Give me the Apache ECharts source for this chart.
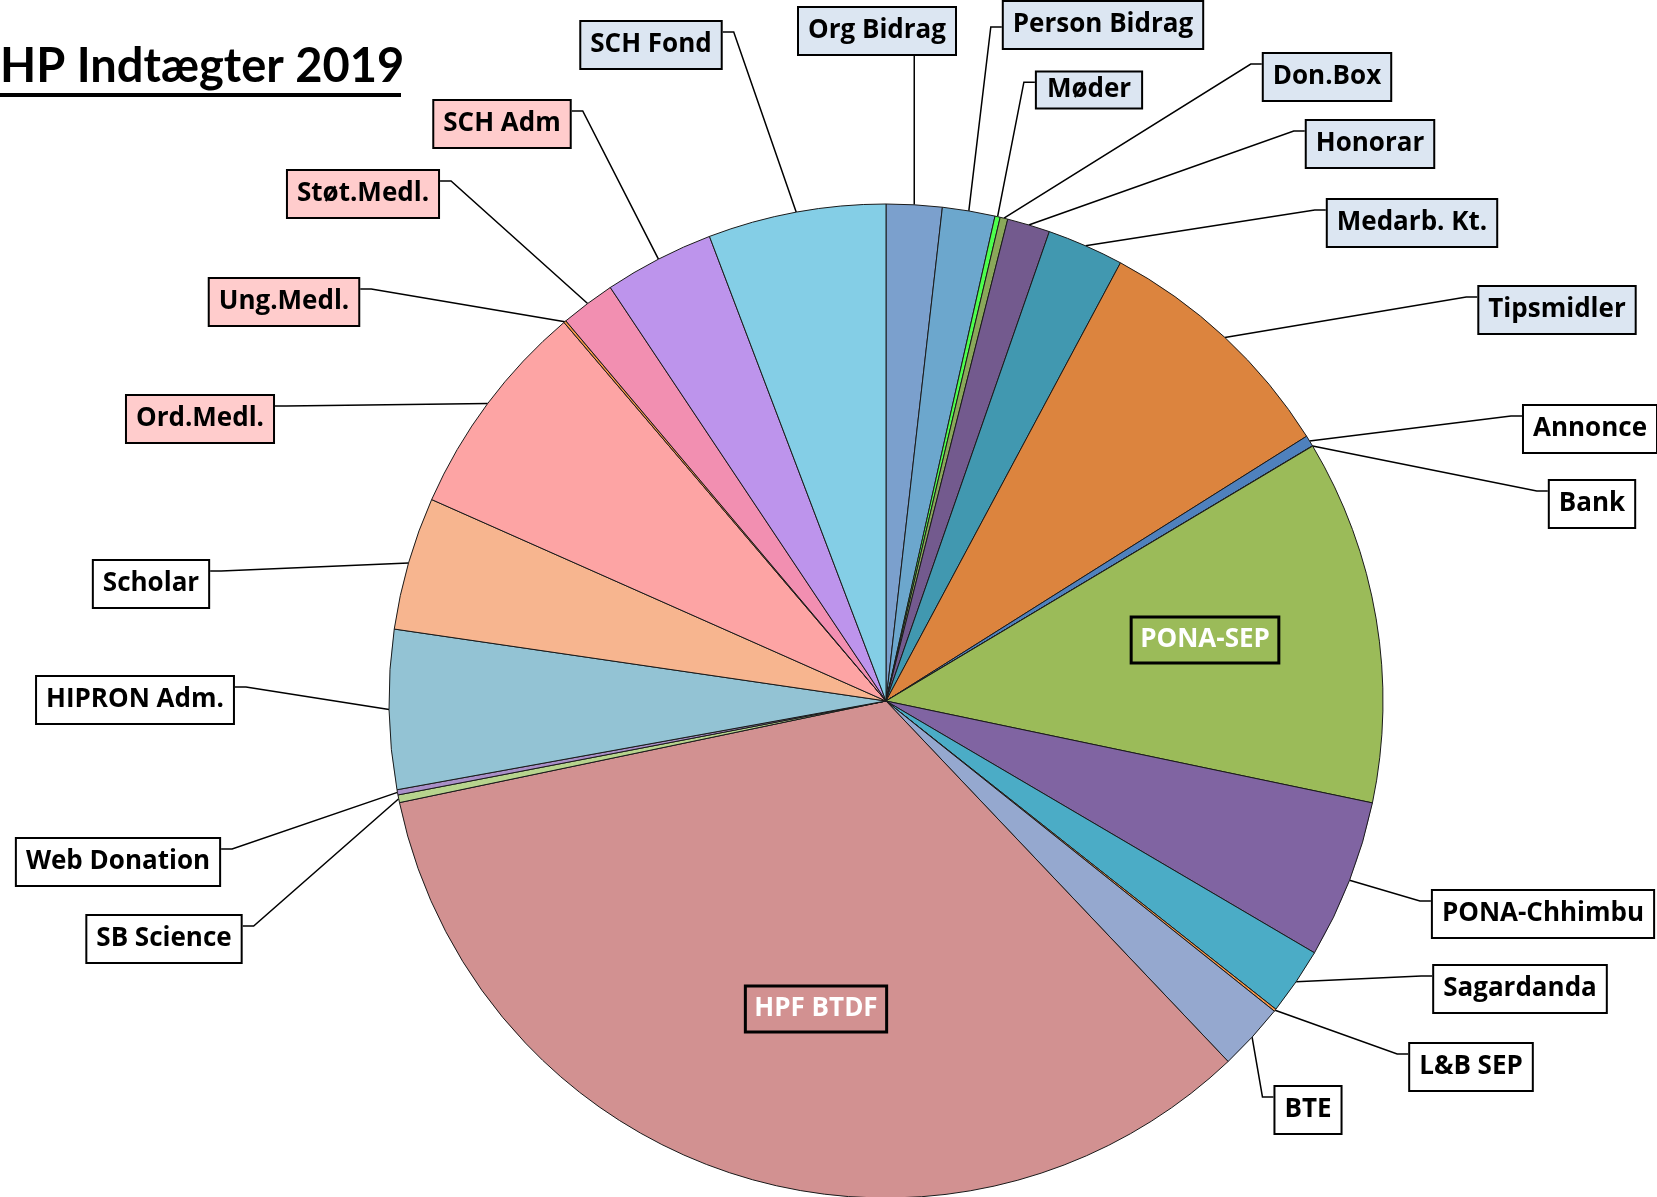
<!DOCTYPE html>
<html>
<head>
<meta charset="utf-8">
<title>HP Indtægter 2019</title>
<script src="https://cdn.jsdelivr.net/npm/echarts@6/dist/echarts.min.js"></script>
<style>
  html, body { margin: 0; padding: 0; background: #fff; }
  #chart { width: 1657px; height: 1197px; }
</style>
</head>
<body>
<div id="chart"></div>
<script>
// income posts, clockwise from 12 o'clock
const categories = [
  'Org Bidrag', 'Person Bidrag', 'Møder', 'Don.Box', 'Honorar', 'Medarb. Kt.',
  'Tipsmidler', 'Annonce', 'Bank', 'PONA-SEP', 'PONA-Chhimbu', 'Sagardanda',
  'L&B SEP', 'BTE', 'HPF BTDF', 'SB Science', 'Web Donation', 'HIPRON Adm.',
  'Scholar', 'Ord.Medl.', 'Ung.Medl.', 'Støt.Medl.', 'SCH Adm', 'SCH Fond'
];
// share of total income (%)
const shares = [
  1.81, 1.71, 0.17, 0.25, 1.39, 2.49,
  8.24, 0.36, 0.01, 11.86, 5.17, 2.19,
  0.08, 2.19, 33.81, 0.25, 0.17, 5.17,
  4.33, 7.14, 0.08, 1.78, 3.58, 5.78
];

// ---- styles ----
const sliceColors = [
  '#7BA0CD', '#6CA7CD', '#4DFF4D', '#8AA85A', '#735A8E', '#4198B0',
  '#DC843E', '#4F81BD', '#C0504D', '#9BBB59', '#8064A2', '#4BACC6',
  '#F79646', '#95A8CF', '#D29191', '#B7D48E', '#A98FC8', '#93C3D4',
  '#F7B58F', '#FDA4A4', '#F79646', '#F28FB1', '#BD94EC', '#84CEE6'
];
const boxBlue = ['Org Bidrag', 'Person Bidrag', 'Møder', 'Don.Box', 'Honorar',
  'Medarb. Kt.', 'Tipsmidler', 'SCH Fond'];
const boxPink = ['Ord.Medl.', 'Ung.Medl.', 'Støt.Medl.', 'SCH Adm'];
const insideLabels = ['PONA-SEP', 'HPF BTDF'];
const shortBoxes = ['Møder'];   // label box was resized smaller in the original

// label box centres (px)
const labelPos = {
  'Org Bidrag': [877, 31], 'Person Bidrag': [1103, 25], 'Møder': [1089, 90],
  'Don.Box': [1327, 77], 'Honorar': [1370, 144], 'Medarb. Kt.': [1412, 223],
  'Tipsmidler': [1557, 310], 'Annonce': [1590, 429], 'Bank': [1592, 504],
  'PONA-SEP': [1205, 640], 'PONA-Chhimbu': [1543, 914], 'Sagardanda': [1520, 989],
  'L&B SEP': [1471, 1067], 'BTE': [1308, 1110], 'HPF BTDF': [816, 1009],
  'SB Science': [164, 939], 'Web Donation': [118, 862], 'HIPRON Adm.': [135, 700],
  'Scholar': [151, 584], 'Ord.Medl.': [200, 419], 'Ung.Medl.': [284, 302],
  'Støt.Medl.': [363, 194], 'SCH Adm': [502, 124], 'SCH Fond': [651, 45]
};
const attachFrac = { 'Person Bidrag': 0.54, 'Møder': 0.3 };
const stub = 11;

const chart = echarts.init(document.getElementById('chart'));

const pieData = categories.map((name, i) => {
  const inside = insideLabels.includes(name);
  let bg = '#fff';
  if (boxBlue.includes(name)) bg = '#DCE6F2';
  if (boxPink.includes(name)) bg = '#FFCCCC';
  let label = { backgroundColor: bg };
  if (inside) {
    label = { position: 'inside', color: '#fff', backgroundColor: 'transparent', borderWidth: 1.5 };
  } else if (shortBoxes.includes(name)) {
    label = { backgroundColor: bg, lineHeight: 33, padding: [1, 10, 1, 10] };
  }
  return {
    name: name,
    value: shares[i],
    itemStyle: { color: sliceColors[i] },
    label: label,
    labelLine: { show: !inside }
  };
});

chart.setOption({
  animation: false,
  backgroundColor: '#fff',
  title: {
    text: 'HP Indtægter 2019',
    left: 0,
    top: 39,
    padding: 0,
    textStyle: {
      fontFamily: 'Lato',
      fontWeight: 'bold',
      fontSize: 47,
      lineHeight: 56,
      color: '#000'
    }
  },
  graphic: [{
    type: 'rect',
    left: 0,
    top: 93,
    shape: { width: 401, height: 4 },
    style: { fill: '#000' }
  }],
  series: [{
    type: 'pie',
    center: [886, 701],
    radius: 497,
    startAngle: 90,
    clockwise: true,
    avoidLabelOverlap: false,
    emphasis: { disabled: true },
    itemStyle: { borderColor: '#1a1a1a', borderWidth: 1 },
    label: {
      show: true,
      position: 'outside',
      overflow: 'none',
      formatter: '{b}',
      fontFamily: 'Open Sans',
      fontWeight: 'bold',
      fontSize: 26,
      lineHeight: 34,
      color: '#000',
      padding: [6, 9, 6, 9],
      borderColor: '#000',
      borderWidth: 2
    },
    labelLine: {
      show: true,
      length: 10,
      length2: 10,
      lineStyle: { color: '#000', width: 1.5 }
    },
    labelLayout: function (p) {
      const name = categories[p.dataIndex];
      const pos = labelPos[name];
      const out = { x: pos[0], y: pos[1], align: 'center', verticalAlign: 'middle' };
      if (insideLabels.includes(name) || !p.labelLinePoints) return out;
      const w = p.labelRect.width;
      const h = p.labelRect.height;
      const left = pos[0] - w / 2;
      const right = pos[0] + w / 2;
      const top = pos[1] - h / 2;
      const bottom = pos[1] + h / 2;
      const f = attachFrac[name] != null ? attachFrac[name] : 0.24;
      const start = p.labelLinePoints[0];
      let mid, end;
      if (start[0] > right) {
        end = [right, top + f * h];
        mid = [right + stub, end[1]];
      } else if (start[0] < left) {
        end = [left, top + f * h];
        mid = [left - stub, end[1]];
      } else {
        end = [start[0], start[1] < top ? top : bottom];
        mid = end;
      }
      out.labelLinePoints = [start, mid, end];
      return out;
    },
    data: pieData
  }]
});
</script>
</body>
</html>
